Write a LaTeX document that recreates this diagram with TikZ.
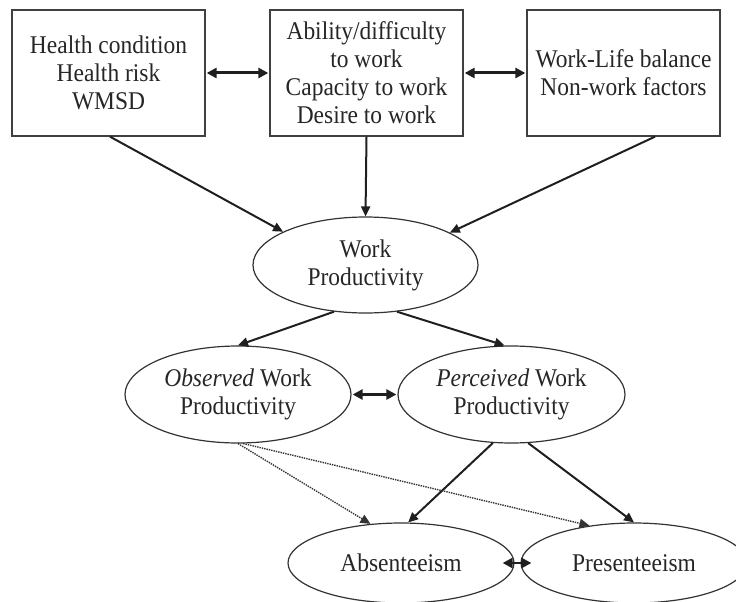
\documentclass[tikz,border=0pt]{standalone}
\usepackage{fontspec}
\setmainfont[FakeStretch=0.92]{Liberation Serif}
\usetikzlibrary{arrows.meta,shapes.geometric}

\tikzset{
  factorbox/.style={draw=black!75, line width=1.3pt, fill=white, inner sep=0pt,
    minimum width=193pt, minimum height=126pt, align=center, text=black!85},
  construct/.style={ellipse, draw=black!80, line width=1.2pt, inner sep=0pt,
    align=center, text=black!85},
  link/.style={-{Triangle[length=10pt,width=9pt]}, line width=2pt, draw=black!88},
  mutual/.style={{Triangle[length=10pt,width=10pt]}-{Triangle[length=10pt,width=10pt]},
    line width=3pt, draw=black!88, shorten <=1pt, shorten >=1pt},
  weaklink/.style={-{Triangle[length=10pt,width=9pt]}, line width=1.4pt,
    densely dotted, draw=black!80},
}

\begin{document}
\begin{tikzpicture}[x=1pt, y=-1pt, font=\fontsize{25.5}{28}\selectfont]
\useasboundingbox (0,0) rectangle (736,602);

% determinant boxes
\node[factorbox] (health) at (108.5,73) {Health condition\\Health risk\\WMSD};
\node[factorbox] (ability) at (366.5,73) {Ability/difficulty\\to work\\Capacity to work\\Desire to work};
\node[factorbox] (balance) at (623.5,73) {Work-Life balance\\Non-work factors};

% productivity constructs
\node[construct, minimum width=225pt, minimum height=96pt] (wp) at (365.5,265) {Work\\Productivity};
\node[construct, minimum width=226pt, minimum height=97pt] (obs) at (238,394.5) {\textit{Observed} Work\\Productivity};
\node[construct, minimum width=227pt, minimum height=97pt] (per) at (511.5,394.5) {\textit{Perceived} Work\\Productivity};
\node[construct, minimum width=226pt, minimum height=80pt] (abs) at (401,563) {Absenteeism};
\node[construct, minimum width=226pt, minimum height=80pt] (pre) at (634,563) {Presenteeism};

% links between the determinants
\draw[mutual] (health.east) -- (ability.west);
\draw[mutual] (ability.east) -- (balance.west);

% determinants feed work productivity
\draw[link] ([xshift=1.5pt]health.south) -- (wp.158);
\draw[link] (ability.south) -- (wp.north);
\draw[link] ([xshift=31.5pt]balance.south) -- (wp.21);

% two views of productivity
\draw[link] (wp.236) -- (obs.north);
\draw[link] (wp.304) -- (per.98);
\draw[mutual, line width=2.8pt] (obs.east) -- (per.west);

% outcomes
\draw[link] (per.249) -- (abs.80);
\draw[link] (per.289) -- (pre.north);
\draw[weaklink] (obs.south) -- (abs.128);
\draw[weaklink] (obs.276) -- (pre.140);
\draw[mutual, line width=2.5pt, shorten <=0pt, shorten >=0pt] ([xshift=-12pt]abs.east) -- ([xshift=11pt]pre.west);
\end{tikzpicture}
\end{document}
